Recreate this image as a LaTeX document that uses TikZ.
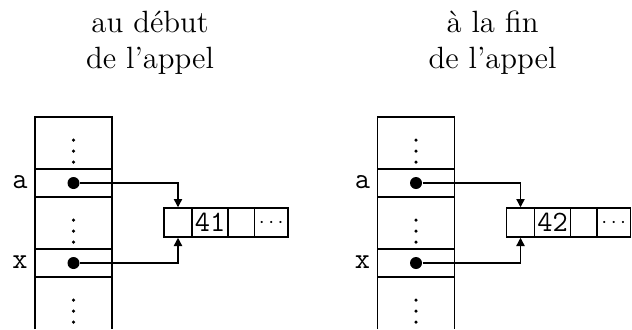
\documentclass[tikz,border=0pt]{standalone}
\usetikzlibrary{arrows.meta}
\tikzset{
  frame/.style={line width=0.6pt},
  divthick/.style={line width=1pt},
  ptr/.style={fill, circle, inner sep=0pt, minimum size=4.8pt},
  lbl/.style={font=\fontsize{11.8}{13}\selectfont\ttfamily, anchor=base, inner sep=0pt},
  ttl/.style={font=\fontsize{12.3}{14.8}\selectfont, anchor=base, inner sep=0pt},
  cellbox/.style={draw, line width=0.6pt, minimum height=11.6pt, inner sep=0pt,
    font=\fontsize{11.8}{13}\selectfont\ttfamily},
  link/.style={line width=0.55pt, -{Triangle[length=3.3pt,width=3.3pt]}}
}
\newcommand\mempanel[4]{%
  \begin{scope}[shift={(#1,0)}]
    \node[ttl] (#2t1) at (150,32) {#3};
    \node[ttl] (#2t2) at (150,68) {de l'appel};
    % stack
    \draw[frame] (35,329) -- (35,117) -- (112,117) -- (112,329);
    \draw[divthick] (35,169) -- (112,169);
    \draw[frame] (35,197) -- (112,197);
    \draw[divthick] (35,249) -- (112,249);
    \draw[frame] (35,277) -- (112,277);
    \foreach \y in {140,151,162,220,231,242,300,311,322}
      \fill (73.5,\y) circle (0.7pt);
    \node[lbl] (#2la) at (20,188) {a};
    \node[lbl] (#2lx) at (20,268) {x};
    \node[ptr] (#2pa) at (73.5,183) {};
    \node[ptr] (#2px) at (73.5,263) {};
    % array
    \node[cellbox, minimum width=11.2pt] (#2c1) at (178,222.5) {};
    \node[cellbox, minimum width=14.4pt] (#2c2) at (210,222.5) {#4};
    \node[cellbox, minimum width=10.6pt] (#2c3) at (241.25,222.5) {};
    \node[cellbox, minimum width=13.4pt] (#2c4) at (271.25,222.5)
      {\fontsize{8.5}{10}\selectfont$\cdots$};
    \draw[link] (#2pa) -| (#2c1.north);
    \draw[link] (#2px) -| (#2c1.south);
  \end{scope}}
\begin{document}
\begin{tikzpicture}[x=0.4pt,y=-0.4pt]
  \useasboundingbox (0,0) rectangle (632,329);
  \mempanel{0}{L}{au début}{41}
  \mempanel{342.5}{R}{à la fin}{42}
\end{tikzpicture}
\end{document}
